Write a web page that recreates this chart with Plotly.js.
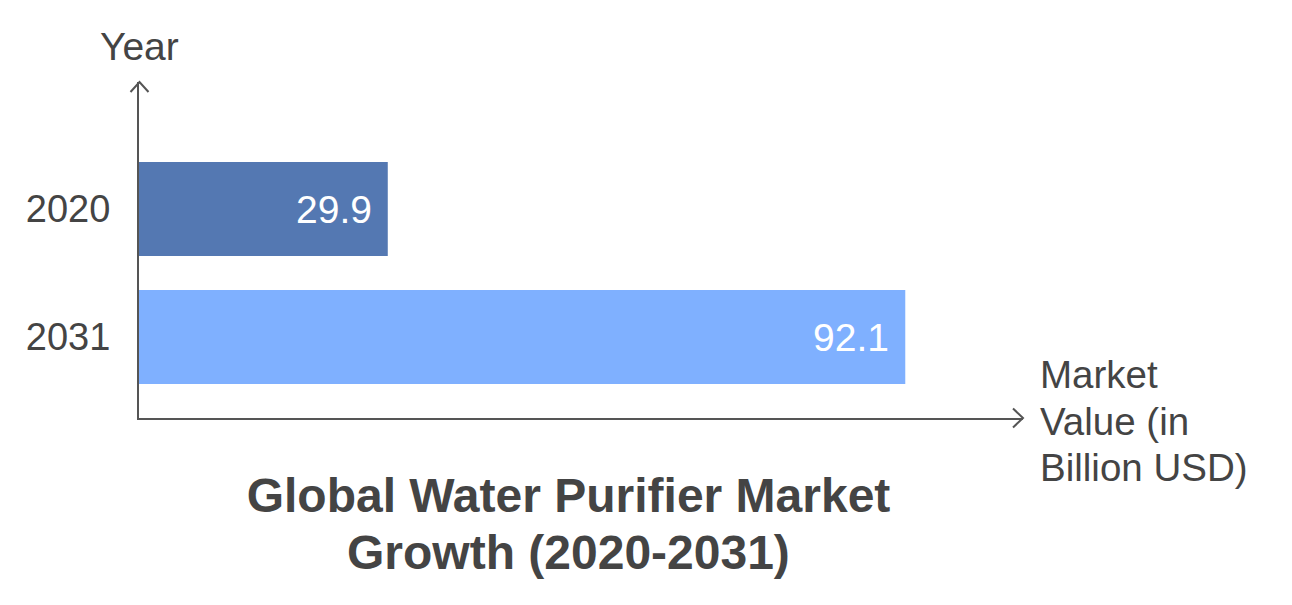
<!DOCTYPE html>
<html>
<head>
<meta charset="utf-8">
<script src="https://cdn.plot.ly/plotly-3.0.1.min.js"></script>
<style>html,body{margin:0;padding:0;background:#fff;}#chart{width:1292px;height:605px;}</style>
</head>
<body>
<div id="chart"></div>
<script>
// ---- data ----
const years = ["2020", "2031"];
const marketValues = [29.9, 92.1];
const valueLabels = ["29.9", "92.1"];
const barColors = ["#5478B2", "#7FB0FF"];
const titleLine1 = "Global Water Purifier Market";
const titleLine2 = "Growth (2020-2031)";
const xTitleLines = ["Market", "Value (in", "Billion USD)"];
const yTitle = "Year";

// ---- layout geometry ----
const W = 1292, H = 605;
const M = {l: 139, r: 1292 - 1023, t: 82, b: 605 - 418};
const PW = W - M.l - M.r, PH = H - M.t - M.b;
const px = x => (x - M.l) / PW;
const py = y => (H - M.b - y) / PH;

const FONT = "Liberation Sans, Arial, Helvetica, sans-serif";
const TXT = "#444444";
const AX = "#555555";

const trace = {
  type: "bar",
  orientation: "h",
  y: years,
  x: marketValues,
  width: 0.734,
  marker: {color: barColors},
  hoverinfo: "skip"
};

const annotations = [];
years.forEach((yr, i) => {
  annotations.push({
    x: marketValues[i], y: i, xref: "x", yref: "y",
    text: valueLabels[i], showarrow: false,
    xanchor: "right", yanchor: "middle", xshift: -14, yshift: -1,
    font: {family: FONT, size: 39, color: "#ffffff"}
  });
});
annotations.push({
  x: px(139.5), y: py(47), xref: "paper", yref: "paper",
  text: yTitle, showarrow: false, xanchor: "center", yanchor: "middle",
  font: {family: FONT, size: 39, color: TXT}
});
const xTitleCenters = [374.5, 421, 467.5];
xTitleLines.forEach((ln, i) => {
  annotations.push({
    x: px(1038), y: py(xTitleCenters[i]), xref: "paper", yref: "paper",
    text: ln, showarrow: false, xanchor: "left", yanchor: "middle", align: "left",
    font: {family: FONT, size: 38.5, color: TXT}
  });
});
annotations.push({
  x: px(568.5), y: py(552), xref: "paper", yref: "paper",
  text: "<b>" + titleLine2 + "</b>", showarrow: false, xanchor: "center", yanchor: "middle",
  font: {family: FONT, size: 48, color: TXT}
});

const shapes = [
  {type: "path", xref: "paper", yref: "paper",
   path: `M${px(130.5)},${py(92)} L${px(139.5)},${py(82)} L${px(148.5)},${py(92)}`,
   line: {color: AX, width: 2}},
  {type: "path", xref: "paper", yref: "paper",
   path: `M${px(1013)},${py(408.5)} L${px(1023)},${py(418)} L${px(1013)},${py(427.5)}`,
   line: {color: AX, width: 2}}
];

const layout = {
  width: W, height: H,
  margin: M,
  paper_bgcolor: "#ffffff", plot_bgcolor: "#ffffff",
  showlegend: false,
  font: {family: FONT, color: TXT},
  title: {
    text: "<b>" + titleLine1 + "</b>",
    x: 568.5 / W, xref: "container", xanchor: "center",
    y: 1 - 495.5 / H, yref: "container", yanchor: "middle",
    font: {family: FONT, size: 48, color: TXT}
  },
  xaxis: {
    range: [0, PW / 8.32],
    showgrid: false, zeroline: false, showticklabels: false, ticks: "",
    showline: true, linecolor: AX, linewidth: 2, fixedrange: true
  },
  yaxis: {
    type: "category",
    range: [1.633, -0.992],
    showgrid: false, zeroline: false, ticks: "",
    showline: true, linecolor: AX, linewidth: 2,
    tickfont: {family: FONT, size: 38, color: TXT},
    ticklabelstandoff: 19, fixedrange: true
  },
  annotations: annotations,
  shapes: shapes
};

Plotly.newPlot("chart", [trace], layout, {displayModeBar: false, staticPlot: true});
</script>
</body>
</html>
